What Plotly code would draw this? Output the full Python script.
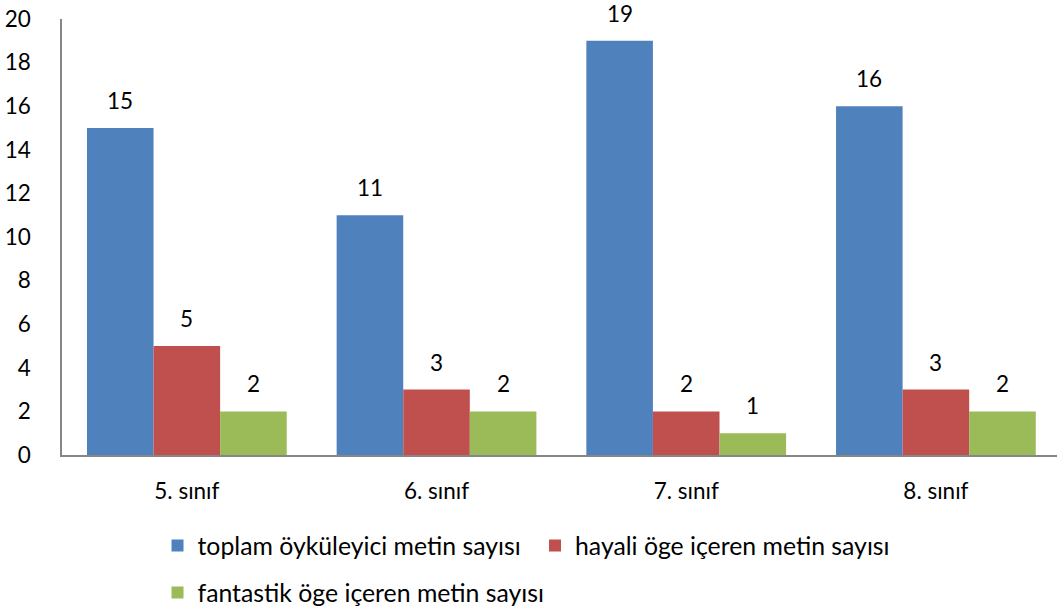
import plotly.graph_objects as go

categories = ["5. sınıf", "6. sınıf", "7. sınıf", "8. sınıf"]
series_names = ["toplam öyküleyici metin sayısı", "hayali öge içeren metin sayısı", "fantastik öge içeren metin sayısı"]
toplam = [15, 11, 19, 16]
hayali = [5, 3, 2, 3]
fantastik = [2, 2, 1, 2]
colors = ["#4F81BD", "#C0504D", "#9BBB59"]
y_ticks = [0, 2, 4, 6, 8, 10, 12, 14, 16, 18, 20]

FONT = "Lato"
FS = 22.5
LFS = 24.8
fig = go.Figure()
all_vals = [toplam, hayali, fantastik]
legends = ["legend", "legend", "legend2"]
for name, vals, c, lg in zip(series_names, all_vals, colors, legends):
    fig.add_trace(go.Bar(x=categories, y=vals, name=name, marker_color=c,
                         marker_line_width=0, legend=lg))

bar_px = 66.5
for i, vals in enumerate(all_vals):
    for cat, v in zip(categories, vals):
        fig.add_annotation(x=cat, y=v, text=str(v), showarrow=False,
                           xshift=(i - 1) * bar_px, yshift=12, yanchor="bottom",
                           font=dict(family=FONT, size=FS, color="black"))

fig.update_layout(
    width=1057, height=612,
    margin=dict(l=62, r=0, t=19, b=157, autoexpand=False),
    paper_bgcolor="white", plot_bgcolor="white",
    barmode="group", bargap=0.2, bargroupgap=0,
    font=dict(family=FONT, size=FS, color="black"),
    xaxis=dict(range=[-0.5, 3.485], showline=True, linecolor="#868686", linewidth=1.5,
               ticks="", showgrid=False, ticklabelstandoff=15, automargin=False,
               tickfont=dict(family=FONT, size=FS, color="black")),
    yaxis=dict(range=[0, 20], tickvals=y_ticks, showline=True, linecolor="#868686",
               linewidth=1.5, ticks="", showgrid=False, zeroline=False, automargin=False,
               ticklabelstandoff=25, tickfont=dict(family=FONT, size=FS, color="black")),
    legend=dict(orientation="h", x=0.096, y=-0.2087, xanchor="left", yanchor="middle",
                font=dict(family=FONT, size=LFS, color="black"), entrywidth=332.5,
                itemclick=False),
    legend2=dict(orientation="h", x=0.096, y=-0.3165, xanchor="left", yanchor="middle",
                 font=dict(family=FONT, size=LFS, color="black"), itemclick=False),
    showlegend=True,
)
fig.write_html("out.html", config={"displayModeBar": False},
               post_script="document.body.style.margin='0px';")
